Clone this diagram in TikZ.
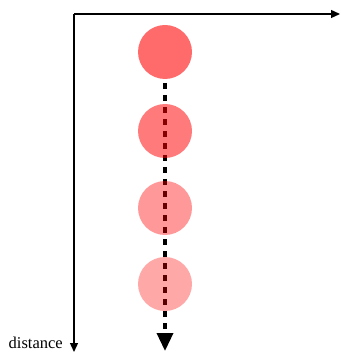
\documentclass[tikz,border=0pt]{standalone}
\usepackage{fontspec}
\setmainfont{Liberation Serif}
\usetikzlibrary{arrows.meta,positioning}
\definecolor{DotRed}{HTML}{FF0000}
\tikzset{
  axisline/.style={-{Triangle[length=9pt,width=8pt]},line width=1.3pt,draw=black},
  pathline/.style={-{Triangle[length=18pt,width=16pt]},line width=3.5pt,dash pattern=on 6pt off 6pt,draw=black},
  blob/.style={circle,fill=DotRed,minimum size=54pt,inner sep=0pt,draw=none}
}
\begin{document}
\begin{tikzpicture}[x=1pt,y=-1pt]
    \useasboundingbox (0,0) rectangle (340,352);
    \coordinate (origin) at (74,14);
    \coordinate (xend) at (340,14);
    \coordinate (yend) at (74,352);
    \coordinate (pstart) at (165,83);
    \coordinate (pend) at (165,351);
    \draw[axisline] (origin) -- (xend);
    \draw[axisline] (origin.center) -- (yend);
    \node[anchor=base east,inner sep=0pt,font=\fontsize{16.5}{16.5}\selectfont] (dist) at (63,348) {distance};
    \draw[pathline] (pstart) -- (pend);
    \foreach \i/\y/\op in {1/52/0.58,2/131/0.52,3/208/0.40,4/284/0.34}
      \node[blob,fill opacity=\op] (dot\i) at (165,\y) {};
  \end{tikzpicture}
\end{document}
